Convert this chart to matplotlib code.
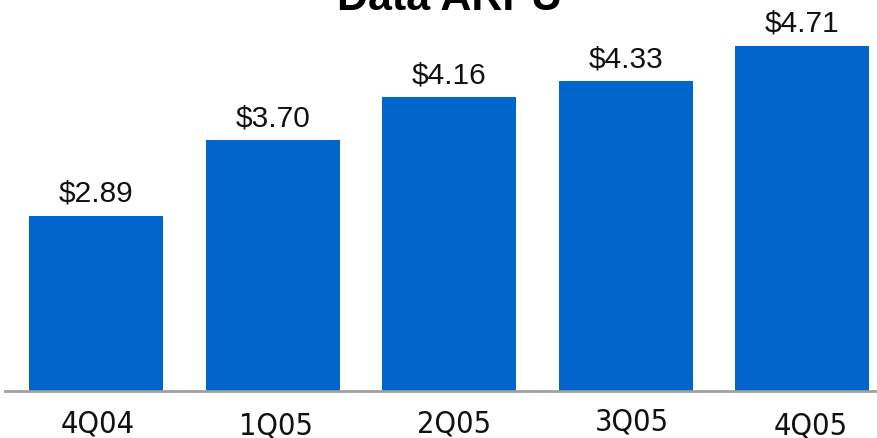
import matplotlib.pyplot as plt
from matplotlib.transforms import blended_transform_factory

quarters = ["4Q04", "1Q05", "2Q05", "3Q05", "4Q05"]
arpu = [2.89, 3.70, 4.16, 4.33, 4.71]
title = "Data ARPU"

BAR_COLOR = "#0066cc"

fig = plt.figure(figsize=(8.78, 4.38), dpi=100)
ax = fig.add_axes([5 / 878, 47 / 438, 873 / 878, 391 / 438])

x = list(range(len(quarters)))
ax.bar(x, arpu, width=0.76, color=BAR_COLOR)
ax.set_xlim(-0.516, 4.43)
ax.set_ylim(1.016, 5.20)

for i, v in zip(x, arpu):
    ax.annotate(f"${v:.2f}", (i, v), xytext=(0, 14), textcoords="offset pixels",
                ha="center", va="baseline", fontsize=21.5, family="Liberation Sans",
                color="#111111")

# baseline rule only, no frame or ticks
for s in ["top", "right", "left"]:
    ax.spines[s].set_visible(False)
ax.spines["bottom"].set_color("#a0a0a0")
ax.spines["bottom"].set_linewidth(2)
ax.set_xticks([])
ax.set_yticks([])

# category labels sit slightly staggered under the bars
label_dx = [0.011, 0.017, 0.031, 0.034, 0.051]
label_dy = [-41, -43, -42, -39, -43]
trans = blended_transform_factory(ax.transData, ax.transAxes)
for i, q in enumerate(quarters):
    ax.annotate(q, (i + label_dx[i], 0), xycoords=trans, xytext=(0, label_dy[i]),
                textcoords="offset pixels", ha="center", va="baseline",
                fontsize=22, family="DejaVu Sans", fontstretch="condensed",
                color="#111111", annotation_clip=False)

fig.text(450 / 878, 1 - 10 / 438, title, ha="center", va="baseline",
         fontsize=31, fontweight="bold", family="Liberation Sans")

fig.savefig("out.png", dpi=100)
